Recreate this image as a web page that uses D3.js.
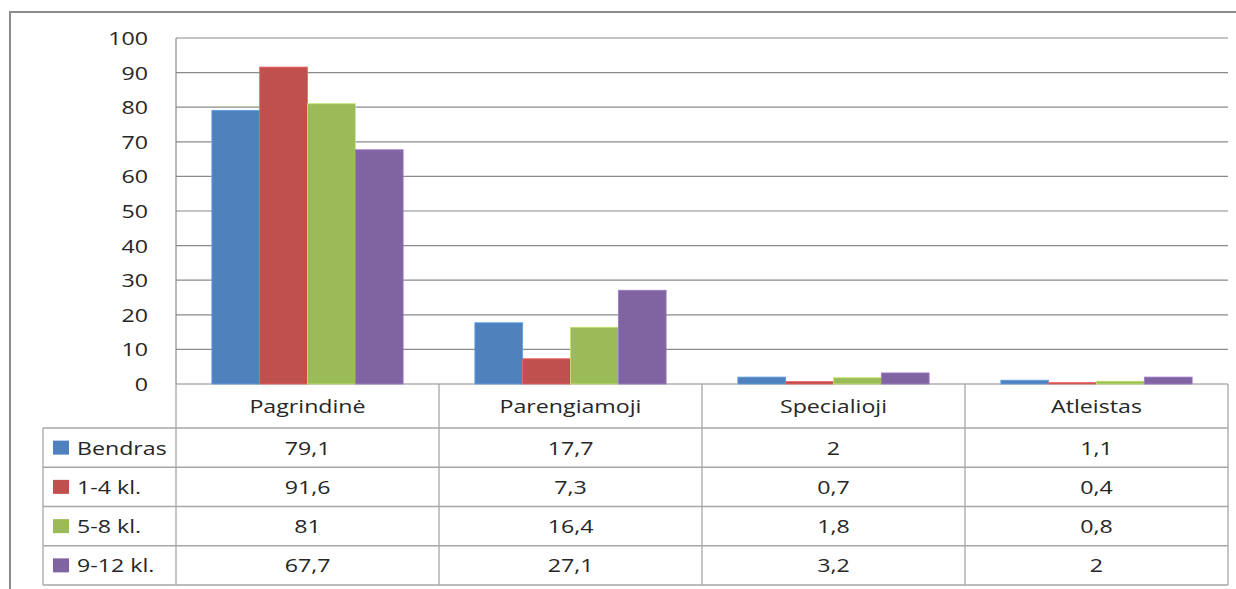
<!DOCTYPE html>
<html>
<head>
<meta charset="utf-8">
<script src="https://cdn.jsdelivr.net/npm/d3@7"></script>
<style>
  body { margin: 0; background: #fff; }
  svg { display: block; }
  text { font-family: "Open Sans", sans-serif; font-size: 19px; fill: #262626; }
</style>
</head>
<body>
<div id="chart"></div>
<script>
// data
var categories = ["Pagrindinė", "Parengiamoji", "Specialioji", "Atleistas"];
var seriesNames = ["Bendras", "1-4 kl.", "5-8 kl.", "9-12 kl."];
var bendras = [79.1, 17.7, 2, 1.1];
var kl1_4 = [91.6, 7.3, 0.7, 0.4];
var kl5_8 = [81, 16.4, 1.8, 0.8];
var kl9_12 = [67.7, 27.1, 3.2, 2];
var yTicks = [0, 10, 20, 30, 40, 50, 60, 70, 80, 90, 100];
var colors = ["#4F81BD", "#C0504D", "#9BBB59", "#8064A2"];

var series = [bendras, kl1_4, kl5_8, kl9_12];

var W = 1236, H = 589;
var plot = {left: 176, right: 1228, top: 38, bottom: 384};
var catRowH = 44, rowH = 39.25, legendLeft = 43;
var SX = 1.22; // text in the picture is drawn wide

var lt = d3.formatLocale({decimal: ",", thousands: " ", grouping: [3], currency: ["", ""]});
var fmt = function(v) { return lt.format("~g")(v); };

var svg = d3.select("#chart").append("svg")
    .attr("width", W)
    .attr("height", H);

// outer chart frame
svg.append("rect")
    .attr("x", 10).attr("y", 12)
    .attr("width", W).attr("height", H)
    .attr("fill", "none")
    .attr("stroke", "#8c8c8c")
    .attr("stroke-width", 2);

var x = d3.scaleBand()
    .domain(categories)
    .range([plot.left, plot.right]);

var xs = d3.scaleBand()
    .domain(d3.range(seriesNames.length))
    .range([0, x.bandwidth()])
    .paddingOuter(0.75);

var y = d3.scaleLinear()
    .domain([0, 100])
    .range([plot.bottom, plot.top]);

function label(g, px, py, txt, anchor) {
  return g.append("text")
      .attr("transform", "translate(" + px + "," + py + ") scale(" + SX + ",1)")
      .attr("text-anchor", anchor || "middle")
      .text(txt);
}

// gridlines
svg.append("g")
    .selectAll("line")
    .data(yTicks)
    .enter().append("line")
    .attr("x1", plot.left).attr("x2", plot.right)
    .attr("y1", function(d) { return y(d); })
    .attr("y2", function(d) { return y(d); })
    .attr("stroke", "#8a8a8a")
    .attr("stroke-width", 1.2);

// value axis line
svg.append("line")
    .attr("x1", plot.left).attr("x2", plot.left)
    .attr("y1", plot.top).attr("y2", plot.bottom)
    .attr("stroke", "#8a8a8a")
    .attr("stroke-width", 1.2);

// y tick labels
var yl = svg.append("g");
yTicks.forEach(function(t) {
  label(yl, 148, y(t) + 7, fmt(t), "end");
});

// bars
var groups = svg.append("g")
    .selectAll("g")
    .data(series)
    .enter().append("g")
    .attr("fill", function(d, i) { return colors[i]; });

groups.each(function(vals, si) {
  d3.select(this).selectAll("rect")
      .data(vals)
      .enter().append("rect")
      .attr("x", function(d, ci) { return x(categories[ci]) + xs(si); })
      .attr("width", xs.bandwidth())
      .attr("y", function(d) { return y(d); })
      .attr("height", function(d) { return y(0) - y(d); })
      .attr("stroke", d3.color(colors[si]).brighter(0.6))
      .attr("stroke-width", 0.8);
});

// data table
var tb = svg.append("g");
var tableTop = plot.bottom;
var rowsTop = tableTop + catRowH;
var tableBottom = rowsTop + rowH * seriesNames.length;
var lineColor = "#a6a6a6";

function hline(x1, x2, yy) {
  tb.append("line").attr("x1", x1).attr("x2", x2).attr("y1", yy).attr("y2", yy)
      .attr("stroke", lineColor).attr("stroke-width", 1.3);
}
function vline(xx, y1, y2) {
  tb.append("line").attr("x1", xx).attr("x2", xx).attr("y1", y1).attr("y2", y2)
      .attr("stroke", lineColor).attr("stroke-width", 1.3);
}

// horizontal rules
for (var r = 0; r <= seriesNames.length; r++) {
  hline(legendLeft, plot.right, rowsTop + r * rowH);
}
// vertical rules
vline(legendLeft, rowsTop, tableBottom);
categories.forEach(function(c) { vline(x(c), tableTop, tableBottom); });
vline(plot.right, tableTop, tableBottom);

// category labels
categories.forEach(function(c) {
  label(tb, x(c) + x.bandwidth() / 2, tableTop + catRowH / 2 + 7, c);
});

// legend cells and values
seriesNames.forEach(function(name, si) {
  var cy = rowsTop + si * rowH + rowH / 2;
  tb.append("rect")
      .attr("x", 53).attr("y", cy - 7)
      .attr("width", 16).attr("height", 14)
      .attr("fill", colors[si]);
  label(tb, 77, cy + 7, name, "start");
  series[si].forEach(function(v, ci) {
    label(tb, x(categories[ci]) + x.bandwidth() / 2, cy + 7, fmt(v));
  });
});
</script>
</body>
</html>
